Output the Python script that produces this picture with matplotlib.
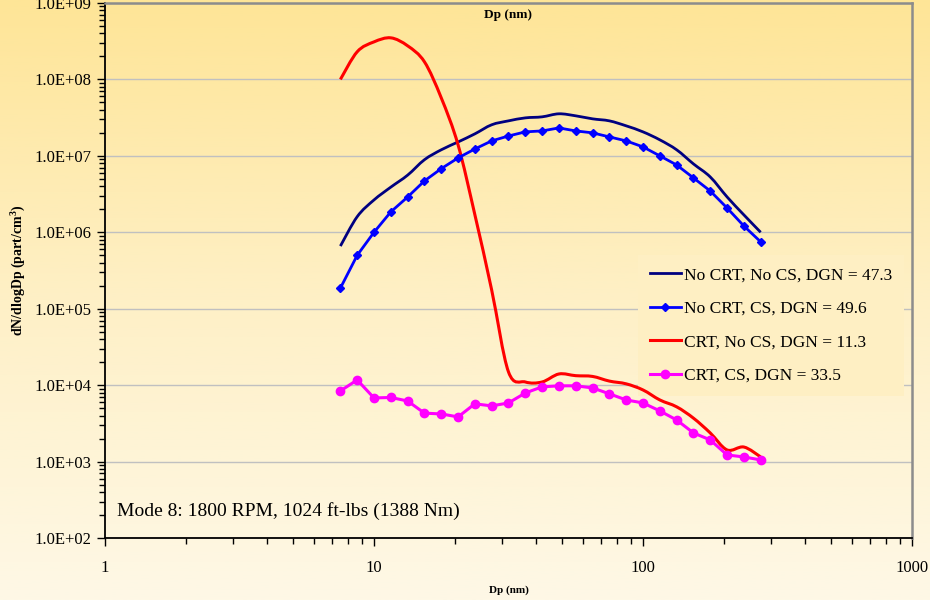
import numpy as np
import matplotlib
matplotlib.use("Agg")
import matplotlib.pyplot as plt
from matplotlib.colors import LinearSegmentedColormap
from matplotlib.path import Path
from matplotlib.patches import PathPatch
from matplotlib.lines import Line2D
from matplotlib.ticker import LogLocator, FixedLocator, NullFormatter

# SMPS channel midpoints (nm)
dp = [7.50, 8.66, 10.0, 11.55, 13.34, 15.40, 17.78, 20.54, 23.71, 27.38,
      31.62, 36.52, 42.17, 48.70, 56.23, 64.94, 74.99, 86.60, 100.0, 115.5,
      133.4, 154.0, 177.8, 205.4, 237.1, 273.8]

no_crt_no_cs = [6.6e5, 1.6e6, 2.65e6, 3.9e6, 5.6e6, 8.9e6, 1.2e7, 1.52e7, 1.94e7, 2.55e7,
                2.87e7, 3.14e7, 3.24e7, 3.55e7, 3.34e7, 3.05e7, 2.87e7, 2.47e7, 2.06e7, 1.62e7,
                1.2e7, 7.85e6, 5.3e6, 2.9e6, 1.69e6, 1.0e6]

no_crt_cs = [1.86e5, 5.0e5, 1.0e6, 1.85e6, 2.9e6, 4.7e6, 6.8e6, 9.4e6, 1.23e7, 1.57e7,
             1.82e7, 2.06e7, 2.12e7, 2.32e7, 2.12e7, 2.0e7, 1.77e7, 1.57e7, 1.31e7, 1.0e7,
             7.6e6, 5.15e6, 3.47e6, 2.08e6, 1.21e6, 7.5e5]

crt_no_cs = [1.0e8, 2.3e8, 3.1e8, 3.5e8, 2.75e8, 1.7e8, 5.75e7, 1.39e7, 1.7e6, 1.76e5,
             1.49e4, 1.1e4, 1.1e4, 1.4e4, 1.33e4, 1.3e4, 1.13e4, 1.04e4, 8.65e3, 6.4e3,
             5.2e3, 3.7e3, 2.37e3, 1.42e3, 1.55e3, 1.15e3]

crt_cs = [8.4e3, 1.17e4, 6.8e3, 6.9e3, 6.2e3, 4.3e3, 4.2e3, 3.84e3, 5.7e3, 5.35e3,
          5.85e3, 7.9e3, 9.5e3, 9.8e3, 9.8e3, 9.2e3, 7.7e3, 6.4e3, 5.85e3, 4.6e3,
          3.5e3, 2.37e3, 1.92e3, 1.22e3, 1.15e3, 1.05e3]

labels = ["No CRT, No CS, DGN = 47.3", "No CRT, CS, DGN = 49.6",
          "CRT, No CS, DGN = 11.3", "CRT, CS, DGN = 33.5"]

serif = "Liberation Serif"


def smooth_path(x, y):
    # Catmull-Rom style cubic Bezier through the points, built in log-log space
    lx, ly = np.log10(x), np.log10(y)
    n = len(lx)
    verts = [(lx[0], ly[0])]
    codes = [Path.MOVETO]
    for i in range(n - 1):
        i0, i3 = max(i - 1, 0), min(i + 2, n - 1)
        c1 = (lx[i] + (lx[i + 1] - lx[i0]) / 6, ly[i] + (ly[i + 1] - ly[i0]) / 6)
        c2 = (lx[i + 1] - (lx[i3] - lx[i]) / 6, ly[i + 1] - (ly[i3] - ly[i]) / 6)
        verts += [c1, c2, (lx[i + 1], ly[i + 1])]
        codes += [Path.CURVE4] * 3
    verts = 10.0 ** np.array(verts)
    return Path(verts, codes)


fig = plt.figure(figsize=(9.3, 6.0), dpi=100)

# vertical yellow gradient behind everything
bg = fig.add_axes([0, 0, 1, 1], zorder=-10)
grad = np.linspace(0, 1, 256).reshape(-1, 1)
cmap = LinearSegmentedColormap.from_list("bg", ["#FEE597", "#FEF0C6", "#FEF8E6"])
bg.imshow(grad, aspect="auto", cmap=cmap, extent=[0, 1, 0, 1], origin="upper")
bg.axis("off")

ax = fig.add_axes([105 / 930, 1 - 538 / 600, (912 - 105) / 930, (538 - 3) / 600])
ax.set_facecolor("none")
ax.set_xscale("log")
ax.set_yscale("log")
ax.set_xlim(1, 1000)
ax.set_ylim(1e2, 1e9)

# smoothed lines for the two unmarked series
ax.add_patch(PathPatch(smooth_path(dp, no_crt_no_cs), fill=False, edgecolor="#000080",
                       lw=2.0, zorder=2))
ax.plot(dp, no_crt_cs, color="#0000FF", lw=2.0, marker="D", ms=4.5, zorder=3)
ax.add_patch(PathPatch(smooth_path(dp, crt_no_cs), fill=False, edgecolor="#FF0000",
                       lw=2.2, zorder=2))
ax.plot(dp, crt_cs, color="#FF00FF", lw=2.2, marker="o", ms=6, zorder=3)

ax.yaxis.grid(True, which="major", color="#C0C0C0", lw=1.0)
ax.set_axisbelow(True)

ax.yaxis.set_major_locator(FixedLocator([10.0 ** k for k in range(2, 10)]))
ax.set_yticklabels(["1.0E+%02d" % k for k in range(2, 10)])
ax.yaxis.set_minor_locator(LogLocator(base=10, subs=np.arange(2, 10)))
ax.yaxis.set_minor_formatter(NullFormatter())
ax.xaxis.set_major_locator(FixedLocator([1, 10, 100, 1000]))
ax.set_xticklabels(["1", "10", "100", "1000"])
ax.xaxis.set_minor_locator(LogLocator(base=10, subs=np.arange(2, 10)))
ax.xaxis.set_minor_formatter(NullFormatter())

ax.tick_params(axis="both", which="major", direction="out", length=6, width=1.0,
               labelsize=12, color="black")
ax.tick_params(axis="both", which="minor", direction="out", length=4, width=1.0)
ax.tick_params(axis="x", pad=10)
for lbl in ax.get_xticklabels() + ax.get_yticklabels():
    lbl.set_fontfamily(serif)

ax.spines["left"].set_color("black")
ax.spines["bottom"].set_color("black")
ax.spines["left"].set_linewidth(1.3)
ax.spines["bottom"].set_linewidth(1.3)
ax.spines["top"].set_color("#8C8C8C")
ax.spines["right"].set_color("#8C8C8C")
ax.spines["top"].set_linewidth(1.8)
ax.spines["right"].set_linewidth(1.8)

ax.set_xlabel("Dp (nm)", fontfamily=serif, fontweight="bold", fontsize=8)
ax.xaxis.set_label_coords(0.5, -0.088)
ax.set_ylabel("dN/dlogDp (part/cm$^\\mathregular{3}$)", fontfamily=serif,
              fontweight="bold", fontsize=10)
ax.yaxis.set_label_coords(-78 / 807, 0.5)
fig.text(508 / 930, 1 - 15 / 600, "Dp (nm)", ha="center", va="center",
         fontfamily=serif, fontweight="bold", fontsize=9.5)

ax.text(12 / 807, 27 / 535, "Mode 8: 1800 RPM, 1024 ft-lbs (1388 Nm)", transform=ax.transAxes,
        fontfamily=serif, fontsize=14, ha="left", va="center")

handles = [Line2D([], [], color="#000080", lw=2.0),
           Line2D([], [], color="#0000FF", lw=2.0, marker="D", ms=4.5),
           Line2D([], [], color="#FF0000", lw=2.2),
           Line2D([], [], color="#FF00FF", lw=2.2, marker="o", ms=6)]
leg = ax.legend(handles, labels, loc="upper left", bbox_to_anchor=(533 / 807, 283 / 535),
                frameon=True, facecolor="#FEEFC3", edgecolor="none", framealpha=1,
                fancybox=False, prop={"family": serif, "size": 12.5}, handlelength=1.75,
                handletextpad=0.2, labelspacing=1.0, borderpad=0.7, borderaxespad=0)
leg.set_zorder(1)

fig.savefig("out.png", dpi=100)
